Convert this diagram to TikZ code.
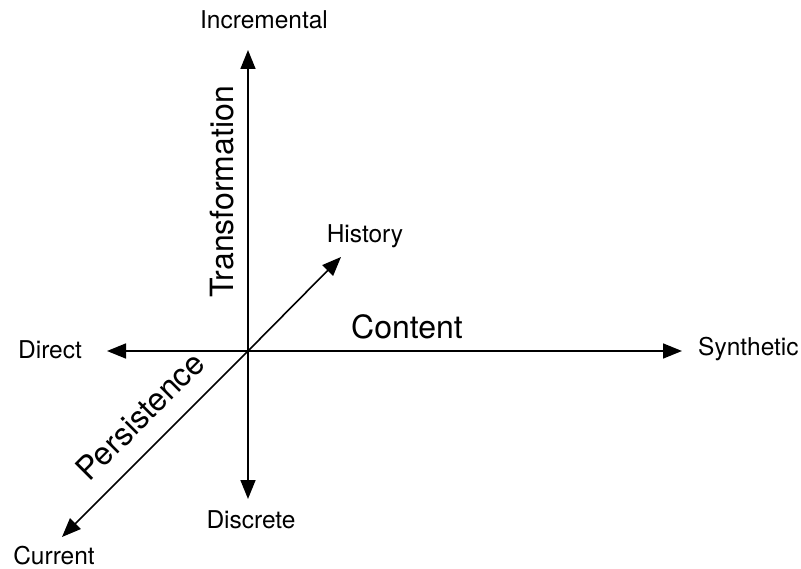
\documentclass[tikz,border=0pt]{standalone}
\usepackage{fontspec}
\setmainfont{TeX Gyre Heros}
\usetikzlibrary{arrows.meta}
\begin{document}
\begin{tikzpicture}[x=1pt, y=-1pt,
    axis/.style={line width=1.6pt, -{Triangle[length=19pt,width=15pt]}},
    lbl/.style={font=\fontsize{24.5}{28}\selectfont, inner sep=0pt},
    dimlbl/.style={font=\fontsize{32}{36}\selectfont, inner sep=0pt}]
    \useasboundingbox (0,0) rectangle (801,569);
    \coordinate (o) at (248,351);
    % arrow ends
    \coordinate (incTip) at (248,50);
    \coordinate (disTip) at (248,499);
    \coordinate (dirTip) at (107,351);
    \coordinate (synTip) at (682,351);
    \coordinate (hisTip) at (341,257);
    \coordinate (curTip) at (62,537);

    % end labels
    \node[lbl] (inc) at (264,20) {Incremental};
    \node[lbl] (dis) at (251,520) {Discrete};
    \node[lbl] (dir) at (50,350) {Direct};
    \node[lbl, anchor=west] (syn) at (698,349) {Synthetic};
    \node[lbl] (his) at (365,236) {History};
    \node[lbl] (cur) at (54,556) {Current};

    % dimension labels
    \node[dimlbl, rotate=90] (trans) at (222,192) {Transformation};
    \node[dimlbl] (cont) at (407,327) {Content};
    \node[dimlbl, rotate=45] (pers) at (140,416) {Persistence};

    \draw[axis] (o) -- (incTip);
    \draw[axis] (o) -- (disTip);
    \draw[axis] (o) -- (dirTip);
    \draw[axis] (o) -- (synTip);
    \draw[axis] (o) -- (hisTip);
    \draw[axis] (o) -- (curTip);
\end{tikzpicture}
\end{document}
